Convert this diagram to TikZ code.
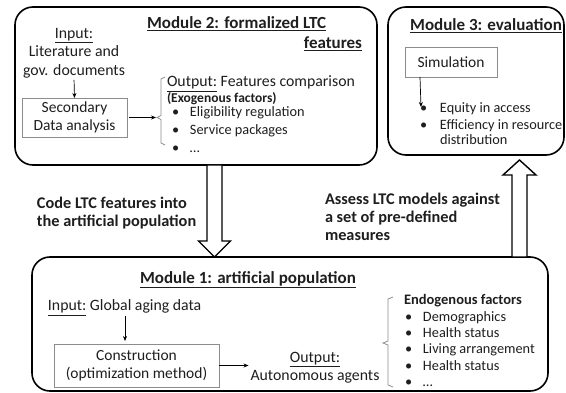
\documentclass[tikz,border=0pt]{standalone}
\usepackage{fontspec}
\setmainfont{Carlito}
\usetikzlibrary{calc,arrows.meta}
\definecolor{txt}{HTML}{1E1E1E}
\definecolor{boxgray}{HTML}{8C8C8C}
\newcommand\fTitle{\fontsize{17}{20}\selectfont\bfseries}
\newcommand\fBody{\fontsize{15.8}{18.5}\selectfont}
\newcommand\fBox{\fontsize{15.5}{17.5}\selectfont}
\newcommand\fBold{\fontsize{16.3}{18}\selectfont\bfseries}
\newcommand\fList{\fontsize{14.3}{16.5}\selectfont}
\newcommand\fListB{\fontsize{14.5}{16.5}\selectfont\bfseries}
\newcommand\fExo{\fontsize{13.5}{15}\selectfont\bfseries}
\newcommand\bul[1]{\makebox[#1][l]{\textbullet}}
\begin{document}
\begin{tikzpicture}[x=1pt,y=-1pt,
  every node/.style={inner sep=0pt,outer sep=0pt,text=txt},
  module/.style={draw=black,line width=1.6pt,rounded corners=18pt},
  innerbox/.style={draw=boxgray,line width=0.9pt,align=center,font=\fBox},
  thinarr/.style={draw=black,line width=0.7pt,-{Stealth[length=5pt,width=4pt]}},
  bracket/.style={draw=boxgray,line width=0.8pt},
  blockarr/.style={draw=black,line width=1.4pt,fill=white,line join=miter},
  title/.style={font=\fTitle,anchor=base west},
  body/.style={font=\fBody,anchor=base west},
  listitem/.style={font=\fList,anchor=base west},
  bodyblock/.style={font=\fBold,align=left,anchor=west}]
\useasboundingbox (0,0) rectangle (566,393);

\coordinate (dx) at (214.5,0);
\coordinate (ux) at (519.5,0);
\path (196,86) coordinate (m2c) (290,324) coordinate (m1c) (476,81) coordinate (m3c);

% modules
\node[module,minimum width=362pt,minimum height=158pt] (m2) at (m2c) {};
\node[module,minimum width=176pt,minimum height=148pt] (m3) at (m3c) {};
\node[module,minimum width=516pt,minimum height=134pt] (m1) at (m1c) {};

% block arrows
\draw[blockarr] let \p1=(m2.south -| dx), \p2=(m1.north -| dx) in
  (\x1-7.5pt,\y1) -- (\x1-7.5pt,\y2+16pt) -- (\x1-16pt,\y2+16pt) -- (\x2,\y2)
  -- (\x1+16pt,\y2+16pt) -- (\x1+7.5pt,\y2+16pt) -- (\x1+7.5pt,\y1) -- cycle;
\draw[blockarr] let \p1=(m1.north -| ux), \p2=(m3.south -| ux) in
  (\x1-7.5pt,\y1) -- (\x1-7.5pt,\y2-20pt) -- (\x1-16.5pt,\y2-20pt) -- (\x2,\y2-5pt)
  -- (\x1+16.5pt,\y2-20pt) -- (\x1+7.5pt,\y2-20pt) -- (\x1+7.5pt,\y1) -- cycle;

% ---- Module 2
\node[title] (m2t1) at (147,28.5) {\underline{Module 2: formalized LTC}};
\node[title,anchor=base east] (m2t2) at (362,48.5) {\underline{features}};
\node[font=\fBody,align=center] (in2) at (74,53) {\underline{Input:}\\Literature and\\gov. documents};
\node[innerbox,minimum width=105pt,minimum height=39pt] (sec) at (74.5,117.5) {Secondary\\Data analysis};
\draw[thinarr,shorten <=2pt] (in2.south) -- (sec.north);
\coordinate (b2tip) at (157,117.5);
\draw[thinarr,shorten <=2pt,shorten >=1pt] (sec.east) -- (b2tip);
\draw[bracket] (165,77) -- (161,79) -- (161,115.5) -- (b2tip) -- (161,119.5) -- (161,143) -- (165,145);
\node[body] (out2) at (167,87) {\underline{Output:} Features comparison};
\node[font=\fExo,anchor=base west] (exo) at (167,102.5) {(Exogenous factors)};
\node[listitem] (e1) at (172,117) {\bul{18pt}Eligibility regulation};
\node[listitem] (e2) at (172,135) {\bul{18pt}Service packages};
\node[listitem] (e3) at (172,152.5) {\bul{18pt}…};

% ---- Module 3
\node[title,anchor=base] (m3t) at (486,30.5) {\underline{Module 3: evaluation}};
\node[innerbox,minimum width=92pt,minimum height=30pt] (sim) at (451,62) {Simulation};
\coordinate (sx) at (420,0);
\coordinate (simend) at (421,107);
\draw[thinarr] (sim.south -| sx) -- (simend);
\node[listitem] (q1) at (420,113) {\bul{20pt}Equity in access};
\node[listitem] (q2) at (420,130) {\bul{20pt}Efficiency in resource};
\node[listitem] (q3) at (440,145) {distribution};

% ---- Module 1
\node[title] (m1t) at (140,283.5) {\underline{Module 1: artificial population}};
\node[body] (in1) at (48,311) {\underline{Input:} Global aging data};
\node[innerbox,minimum width=165pt,minimum height=43pt] (cons) at (136.5,365.5) {Construction\\(optimization method)};
\coordinate (ix) at (125,0);
\draw[thinarr,shorten >=3pt] (in1.south -| ix) -- (cons.north -| ix);
\node[font=\fBody,align=center] (out1) at (315,367.5) {\underline{Output:}\\Autonomous agents};
\draw[thinarr,shorten >=2pt] (cons.east) -- (out1.west |- cons.east);
\coordinate (b1tip) at (383,343);
\draw[bracket] (393,297) -- (388,299) -- (388,341) -- (b1tip) -- (388,345) -- (388,385) -- (393,387);
\node[font=\fListB,anchor=base west] (endo) at (404,305) {Endogenous factors};
\node[listitem] (d1) at (405,321.5) {\bul{18pt}Demographics};
\node[listitem] (d2) at (405,337.75) {\bul{18pt}Health status};
\node[listitem] (d3) at (405,354) {\bul{18pt}Living arrangement};
\node[listitem] (d4) at (405,370.25) {\bul{18pt}Health status};
\node[listitem] (d5) at (405,386.5) {\bul{18pt}…};

% ---- middle labels
\node[bodyblock] (code) at (37,213.3) {Code LTC features into\\the artificial population};
\node[bodyblock] (assess) at (325,217.3) {Assess LTC models against\\a set of pre-defined\\measures};
\end{tikzpicture}
\end{document}
